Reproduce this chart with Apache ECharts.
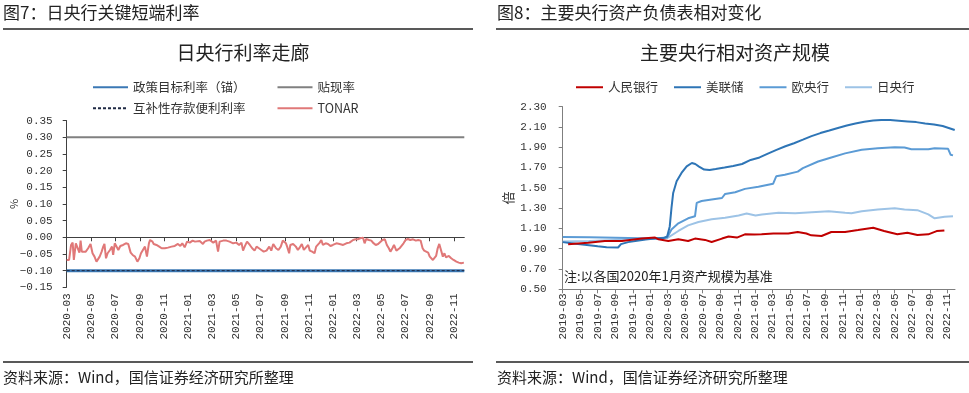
<!DOCTYPE html>
<html>
<head>
<meta charset="utf-8">
<script src="https://cdn.jsdelivr.net/npm/echarts@6/dist/echarts.min.js"></script>
<style>
html,body{margin:0;padding:0;background:#fff;}
#c{width:969px;height:393px;}
</style>
</head>
<body>
<div id="c"></div>
<script>
// ---------- Data: left chart (日央行利率走廊) ----------
const leftTickLabels = ['2020-03','2020-05','2020-07','2020-09','2020-11','2021-01','2021-03','2021-05','2021-07','2021-09','2021-11','2022-01','2022-03','2022-05','2022-07','2022-09','2022-11'];
const leftRange = ['2020-03-01', '2022-11-27'];
const policyRate = -0.10;        // 政策目标利率（锚）
const discountRate = 0.30;       // 贴现率
const complementaryRate = -0.10; // 互补性存款便利利率
const tonar = [
['2020-03-01',-0.068],['2020-03-07',-0.068],['2020-03-12',-0.023],['2020-03-16',-0.016],['2020-03-19',-0.068],['2020-03-24',-0.018],['2020-03-29',-0.016],
['2020-04-02',-0.046],['2020-04-05',-0.010],['2020-04-08',-0.043],['2020-04-13',-0.048],['2020-04-18',-0.043],['2020-04-24',-0.033],['2020-04-30',-0.020],
['2020-05-05',-0.048],['2020-05-10',-0.058],['2020-05-15',-0.073],['2020-05-20',-0.068],['2020-05-23',-0.058],['2020-05-28',-0.043],
['2020-06-01',-0.028],['2020-06-04',-0.020],['2020-06-08',-0.063],['2020-06-12',-0.048],['2020-06-18',-0.038],['2020-06-23',-0.028],['2020-06-26',-0.053],['2020-06-30',-0.018],
['2020-07-04',-0.013],['2020-07-09',-0.038],['2020-07-14',-0.026],['2020-07-21',-0.023],['2020-07-28',-0.018],
['2020-08-03',-0.020],['2020-08-09',-0.046],['2020-08-14',-0.053],['2020-08-20',-0.058],['2020-08-26',-0.073],['2020-08-31',-0.063],
['2020-09-04',-0.048],['2020-09-09',-0.043],['2020-09-14',-0.028],['2020-09-19',-0.058],['2020-09-24',-0.018],['2020-09-27',-0.008],
['2020-10-03',-0.013],['2020-10-06',-0.020],['2020-10-13',-0.023],['2020-10-20',-0.028],['2020-10-26',-0.033],
['2020-11-03',-0.033],['2020-11-11',-0.031],['2020-11-20',-0.028],['2020-11-28',-0.026],
['2020-12-06',-0.020],['2020-12-12',-0.026],['2020-12-17',-0.018],['2020-12-23',-0.030],['2020-12-29',-0.013],
['2021-01-05',-0.016],['2021-01-12',-0.010],['2021-01-18',-0.013],['2021-01-23',-0.008],['2021-01-30',-0.011],
['2021-02-07',-0.020],['2021-02-11',-0.013],['2021-02-17',-0.010],['2021-02-24',-0.008],
['2021-03-05',-0.016],['2021-03-12',-0.010],['2021-03-17',-0.043],['2021-03-21',-0.013],['2021-03-30',-0.010],
['2021-04-07',-0.010],['2021-04-15',-0.013],['2021-04-24',-0.018],
['2021-05-02',-0.016],['2021-05-09',-0.023],['2021-05-15',-0.016],['2021-05-19',-0.040],['2021-05-23',-0.028],['2021-05-29',-0.013],
['2021-06-05',-0.023],['2021-06-11',-0.033],['2021-06-17',-0.040],['2021-06-22',-0.028],['2021-06-28',-0.033],
['2021-07-04',-0.038],['2021-07-10',-0.043],['2021-07-17',-0.040],['2021-07-24',-0.028],['2021-07-29',-0.040],
['2021-08-03',-0.020],['2021-08-10',-0.033],['2021-08-16',-0.038],['2021-08-22',-0.028],['2021-08-27',-0.010],['2021-08-31',-0.006],
['2021-09-04',-0.018],['2021-09-07',-0.028],['2021-09-12',-0.048],['2021-09-15',-0.023],['2021-09-22',-0.020],['2021-09-29',-0.028],
['2021-10-04',-0.038],['2021-10-09',-0.030],['2021-10-14',-0.020],['2021-10-19',-0.038],['2021-10-24',-0.043],['2021-10-30',-0.023],
['2021-11-03',-0.040],['2021-11-09',-0.043],['2021-11-15',-0.048],['2021-11-19',-0.028],['2021-11-24',-0.023],['2021-11-28',-0.016],
['2021-12-02',-0.008],['2021-12-06',-0.023],['2021-12-13',-0.018],['2021-12-19',-0.020],['2021-12-25',-0.026],['2021-12-31',-0.023],
['2022-01-09',-0.018],['2022-01-17',-0.020],['2022-01-26',-0.023],
['2022-02-03',-0.018],['2022-02-11',-0.016],['2022-02-20',-0.008],['2022-02-26',-0.006],
['2022-03-04',-0.006],['2022-03-10',-0.003],['2022-03-17',-0.001],['2022-03-21',-0.018],['2022-03-25',-0.005],
['2022-04-01',-0.008],['2022-04-07',-0.010],['2022-04-11',-0.016],['2022-04-18',-0.023],['2022-04-24',-0.020],['2022-04-28',-0.020],
['2022-05-05',-0.008],['2022-05-11',-0.006],['2022-05-16',-0.023],['2022-05-21',-0.033],['2022-05-25',-0.043],['2022-05-30',-0.033],
['2022-06-03',-0.023],['2022-06-09',-0.040],['2022-06-13',-0.043],['2022-06-17',-0.033],['2022-06-21',-0.028],['2022-06-27',-0.018],
['2022-07-02',-0.008],['2022-07-08',-0.005],['2022-07-14',-0.008],['2022-07-21',-0.006],['2022-07-28',-0.010],
['2022-08-03',-0.008],['2022-08-09',-0.010],['2022-08-14',-0.033],['2022-08-18',-0.040],['2022-08-23',-0.038],['2022-08-28',-0.046],
['2022-09-01',-0.058],['2022-09-05',-0.053],['2022-09-09',-0.068],['2022-09-13',-0.073],['2022-09-17',-0.056],['2022-09-21',-0.033],['2022-09-25',-0.020],['2022-09-29',-0.023],
['2022-10-04',-0.058],['2022-10-08',-0.048],['2022-10-12',-0.060],['2022-10-19',-0.056],['2022-10-25',-0.063],['2022-10-31',-0.068],
['2022-11-07',-0.073],['2022-11-13',-0.076],['2022-11-19',-0.078],['2022-11-26',-0.076]
];

// ---------- Data: right chart (主要央行相对资产规模) ----------
const rightTickLabels = ['2019-03','2019-05','2019-07','2019-09','2019-11','2020-01','2020-03','2020-05','2020-07','2020-09','2020-11','2021-01','2021-03','2021-05','2021-07','2021-09','2021-11','2022-01','2022-03','2022-05','2022-07','2022-09','2022-11'];
const rightRange = ['2019-03-01', '2022-11-27'];
const pboc = [
['2019-03-20',0.944],['2019-05-29',0.960],['2019-07-26',0.976],['2019-09-23',0.976],['2019-12-02',1.000],['2020-01-17',1.010],['2020-01-29',0.993],
['2020-03-03',0.976],['2020-04-07',0.993],['2020-05-11',0.976],['2020-06-04',1.000],['2020-07-09',0.987],['2020-08-01',0.967],['2020-09-06',1.000],
['2020-09-29',1.020],['2020-10-28',1.010],['2020-11-25',1.042],['2020-12-28',1.040],['2021-01-22',1.042],['2021-03-04',1.050],['2021-04-25',1.050],
['2021-05-28',1.065],['2021-06-27',1.050],['2021-07-14',1.032],['2021-08-19',1.025],['2021-09-22',1.065],['2021-11-09',1.065],['2021-12-24',1.084],
['2022-02-15',1.107],['2022-03-25',1.074],['2022-05-10',1.042],['2022-06-14',1.058],['2022-07-19',1.035],['2022-08-26',1.042],['2022-09-24',1.074],['2022-10-21',1.080]
];
const fed = [
['2019-03-01',0.965],['2019-04-01',0.955],['2019-05-01',0.945],['2019-06-01',0.935],['2019-07-01',0.925],['2019-08-01',0.915],['2019-09-10',0.912],
['2019-09-20',0.945],['2019-10-15',0.965],['2019-11-15',0.978],['2019-12-15',0.992],['2020-01-15',1.000],['2020-02-15',1.005],['2020-02-28',1.020],
['2020-03-08',1.120],['2020-03-14',1.300],['2020-03-20',1.450],['2020-04-01',1.565],['2020-04-18',1.647],['2020-05-06',1.712],['2020-05-24',1.745],
['2020-06-05',1.735],['2020-06-18',1.710],['2020-07-06',1.680],['2020-07-25',1.675],['2020-08-15',1.685],['2020-09-15',1.700],['2020-10-15',1.715],
['2020-11-15',1.735],['2020-12-15',1.775],['2021-01-15',1.800],['2021-02-15',1.840],['2021-03-15',1.875],['2021-04-15',1.910],['2021-05-15',1.940],
['2021-06-15',1.975],['2021-07-15',2.010],['2021-08-15',2.040],['2021-09-15',2.065],['2021-10-15',2.090],['2021-11-15',2.115],['2021-12-15',2.135],
['2022-01-15',2.152],['2022-02-15',2.163],['2022-03-15',2.170],['2022-04-15',2.168],['2022-05-15',2.162],['2022-06-15',2.155],['2022-07-15',2.148],
['2022-08-15',2.135],['2022-09-15',2.125],['2022-10-15',2.110],['2022-11-05',2.090],['2022-11-26',2.070]
];
const ecb = [
['2019-03-01',1.015],['2019-06-01',1.012],['2019-09-01',1.008],['2019-12-01',1.003],['2020-01-15',1.000],['2020-02-28',1.010],['2020-03-14',1.090],
['2020-04-07',1.150],['2020-05-11',1.200],['2020-06-04',1.220],['2020-06-10',1.352],['2020-06-27',1.370],['2020-08-01',1.385],['2020-09-06',1.400],
['2020-09-17',1.440],['2020-10-22',1.457],['2020-11-25',1.490],['2021-01-11',1.510],['2021-03-03',1.540],['2021-03-14',1.614],['2021-04-13',1.630],
['2021-05-28',1.660],['2021-06-15',1.695],['2021-08-07',1.760],['2021-09-22',1.800],['2021-11-09',1.840],['2022-01-06',1.875],['2022-03-03',1.890],
['2022-05-01',1.900],['2022-06-04',1.898],['2022-06-28',1.880],['2022-08-26',1.880],['2022-09-17',1.890],['2022-11-03',1.885],['2022-11-12',1.826],['2022-11-20',1.820]
];
const boj = [
['2019-03-01',0.970],['2019-06-01',0.975],['2019-09-01',0.985],['2019-12-01',0.995],['2020-01-15',1.000],['2020-02-28',1.005],['2020-03-03',1.020],
['2020-04-07',1.075],['2020-05-11',1.130],['2020-06-16',1.163],['2020-08-01',1.190],['2020-09-17',1.205],['2020-11-03',1.228],['2020-12-01',1.248],
['2021-01-01',1.228],['2021-01-23',1.238],['2021-03-22',1.255],['2021-05-19',1.250],['2021-07-16',1.260],['2021-09-13',1.270],['2021-11-09',1.255],
['2021-12-01',1.250],['2022-01-06',1.270],['2022-03-03',1.287],['2022-05-01',1.300],['2022-06-04',1.287],['2022-07-19',1.280],['2022-08-26',1.238],
['2022-09-17',1.200],['2022-10-22',1.215],['2022-11-20',1.220]
];

// ---------- helpers: dates -> timestamps for a numeric (value) axis ----------
function toTs(s) { const p = s.split('-'); return new Date(+p[0], +p[1] - 1, p[2] ? +p[2] : 1).getTime(); }
function pts(arr) { return arr.map(function (d) { return [toTs(d[0]), d[1]]; }); }
function ymLabel(v) { const d = new Date(v); return d.getFullYear() + '-' + String(d.getMonth() + 1).padStart(2, '0'); }
function numLabel(v) { const s = Math.abs(v).toFixed(2); return (v < -1e-9 ? '\u2212' : '') + s; }
const leftTicks = leftTickLabels.map(toTs);
const rightTicks = rightTickLabels.map(toTs);
const lMin = toTs(leftRange[0]), lMax = toTs(leftRange[1]);
const rMin = toTs(rightRange[0]), rMax = toTs(rightRange[1]);

const CJK = '"Noto Sans CJK SC", "Noto Sans", sans-serif';
const MONO = '"Liberation Mono", "DejaVu Sans Mono", monospace';
const txt = '#333';
const axisCol = '#404040';
const legendCommon = { itemStyle: { opacity: 0 }, textStyle: { fontSize: 12.5, color: txt, fontFamily: CJK } };

const chart = echarts.init(document.getElementById('c'), null, { renderer: 'canvas' });
chart.setOption({
  animation: false,
  backgroundColor: '#fff',
  textStyle: { fontFamily: CJK },
  title: [
    { text: '日央行利率走廊', left: 238, top: 38, textAlign: 'center', textStyle: { fontSize: 19, fontWeight: 'normal', color: '#222', fontFamily: CJK } },
    { text: '主要央行相对资产规模', left: 730, top: 38, textAlign: 'center', textStyle: { fontSize: 19, fontWeight: 'normal', color: '#222', fontFamily: CJK } }
  ],
  legend: [
    Object.assign({ data: ['政策目标利率（锚）', '贴现率'], left: 87, top: 76, itemWidth: 35, itemHeight: 14, itemGap: 31 }, legendCommon),
    Object.assign({ data: ['互补性存款便利利率', 'TONAR'], left: 87, top: 97, itemWidth: 35, itemHeight: 14, itemGap: 31 }, legendCommon),
    Object.assign({ data: ['人民银行', '美联储', '欧央行', '日央行'], left: 570, top: 76, itemWidth: 27, itemHeight: 14, itemGap: 15 }, legendCommon)
  ],
  grid: [
    { left: 66.7, right: 504.7, top: 120.6, bottom: 105.7 },
    { left: 562.7, right: 14, top: 106.7, bottom: 103.7 }
  ],
  xAxis: [
    { type: 'value', gridIndex: 0, min: lMin, max: lMax, scale: true,
      axisLine: { show: true, onZero: true, lineStyle: { color: axisCol, width: 1 } },
      axisTick: { show: true, customValues: leftTicks, length: 4, lineStyle: { color: axisCol } },
      axisLabel: { show: false }, splitLine: { show: false } },
    { type: 'value', gridIndex: 0, min: lMin, max: lMax, scale: true, position: 'bottom',
      axisLine: { show: false, onZero: false }, axisTick: { show: false },
      axisLabel: { show: true, customValues: leftTicks, rotate: 90, margin: 6, fontSize: 11, color: txt, fontFamily: MONO, formatter: ymLabel },
      splitLine: { show: false } },
    { type: 'value', gridIndex: 1, min: rMin, max: rMax, scale: true,
      axisLine: { show: true, onZero: false, lineStyle: { color: '#7f7f7f', width: 1 } },
      axisTick: { show: true, customValues: rightTicks, length: 4, lineStyle: { color: '#7f7f7f' } },
      axisLabel: { show: true, customValues: rightTicks, rotate: 90, margin: 4, fontSize: 11, color: txt, fontFamily: MONO, formatter: ymLabel },
      splitLine: { show: false } }
  ],
  yAxis: [
    { type: 'value', gridIndex: 0, min: -0.15, max: 0.35, interval: 0.05,
      name: '%', nameLocation: 'middle', nameRotate: 90, nameGap: 47, nameMoveOverlap: false, nameTextStyle: { fontSize: 11, color: txt, fontFamily: CJK },
      axisLine: { show: true, lineStyle: { color: axisCol } },
      axisTick: { show: true, length: 4, lineStyle: { color: axisCol } },
      axisLabel: { fontSize: 11, color: txt, fontFamily: MONO, margin: 14, formatter: numLabel },
      splitLine: { show: false } },
    { type: 'value', gridIndex: 1, min: 0.5, max: 2.3, interval: 0.2,
      name: '倍', nameLocation: 'middle', nameRotate: 90, nameGap: 48, nameMoveOverlap: false, nameTextStyle: { fontSize: 13, color: txt, fontFamily: CJK },
      axisLine: { show: true, lineStyle: { color: '#7f7f7f' } },
      axisTick: { show: true, length: 4, lineStyle: { color: '#7f7f7f' } },
      axisLabel: { fontSize: 11, color: txt, fontFamily: MONO, margin: 16, formatter: numLabel },
      splitLine: { show: false } }
  ],
  series: [
    { name: '政策目标利率（锚）', type: 'line', xAxisIndex: 0, yAxisIndex: 0, symbol: 'none', z: 2,
      data: [[lMin, policyRate], [lMax, policyRate]], lineStyle: { color: '#3B78B5', width: 3 }, itemStyle: { color: '#3B78B5' } },
    { name: '贴现率', type: 'line', xAxisIndex: 0, yAxisIndex: 0, symbol: 'none', z: 2,
      data: [[lMin, discountRate], [lMax, discountRate]], lineStyle: { color: '#808080', width: 2 }, itemStyle: { color: '#808080' } },
    { name: '互补性存款便利利率', type: 'line', xAxisIndex: 0, yAxisIndex: 0, symbol: 'none', z: 4,
      data: [[lMin, complementaryRate], [lMax, complementaryRate]], lineStyle: { color: '#1f2a44', width: 1, type: [3, 2] }, itemStyle: { color: '#1f2a44' } },
    { name: 'TONAR', type: 'line', xAxisIndex: 0, yAxisIndex: 0, symbol: 'none', z: 3,
      data: pts(tonar), lineStyle: { color: '#E07878', width: 2 }, itemStyle: { color: '#E07878' } },

    { name: '人民银行', type: 'line', xAxisIndex: 2, yAxisIndex: 1, symbol: 'none', z: 5,
      data: pts(pboc), lineStyle: { color: '#C00000', width: 2 }, itemStyle: { color: '#C00000' } },
    { name: '美联储', type: 'line', xAxisIndex: 2, yAxisIndex: 1, symbol: 'none', z: 4,
      data: pts(fed), lineStyle: { color: '#2E75B6', width: 2 }, itemStyle: { color: '#2E75B6' } },
    { name: '欧央行', type: 'line', xAxisIndex: 2, yAxisIndex: 1, symbol: 'none', z: 3,
      data: pts(ecb), lineStyle: { color: '#5B9BD5', width: 2 }, itemStyle: { color: '#5B9BD5' } },
    { name: '日央行', type: 'line', xAxisIndex: 2, yAxisIndex: 1, symbol: 'none', z: 2,
      data: pts(boj), lineStyle: { color: '#9DC3E6', width: 2 }, itemStyle: { color: '#9DC3E6' } }
  ],
  graphic: [
    { type: 'text', left: 3, top: 4, style: { text: '图7：日央行关键短端利率', fontSize: 17, fill: '#222', fontFamily: CJK } },
    { type: 'text', left: 497, top: 4, style: { text: '图8：主要央行资产负债表相对变化', fontSize: 17, fill: '#222', fontFamily: CJK } },
    { type: 'line', shape: { x1: 3, y1: 29, x2: 473, y2: 29 }, style: { stroke: '#222', lineWidth: 1.5 } },
    { type: 'line', shape: { x1: 496, y1: 29, x2: 969, y2: 29 }, style: { stroke: '#222', lineWidth: 1.5 } },
    { type: 'line', shape: { x1: 3, y1: 362, x2: 473, y2: 362 }, style: { stroke: '#222', lineWidth: 1.5 } },
    { type: 'line', shape: { x1: 496, y1: 362, x2: 969, y2: 362 }, style: { stroke: '#222', lineWidth: 1.5 } },
    { type: 'text', left: 3, top: 370, style: { text: '资料来源：Wind，国信证券经济研究所整理', fontSize: 15, fill: '#222', fontFamily: CJK } },
    { type: 'text', left: 497, top: 370, style: { text: '资料来源：Wind，国信证券经济研究所整理', fontSize: 15, fill: '#222', fontFamily: CJK } },
    { type: 'text', left: 564, top: 270, style: { text: '注:以各国2020年1月资产规模为基准', fontSize: 13, fill: '#222', fontFamily: CJK } }
  ]
});
</script>
</body>
</html>
